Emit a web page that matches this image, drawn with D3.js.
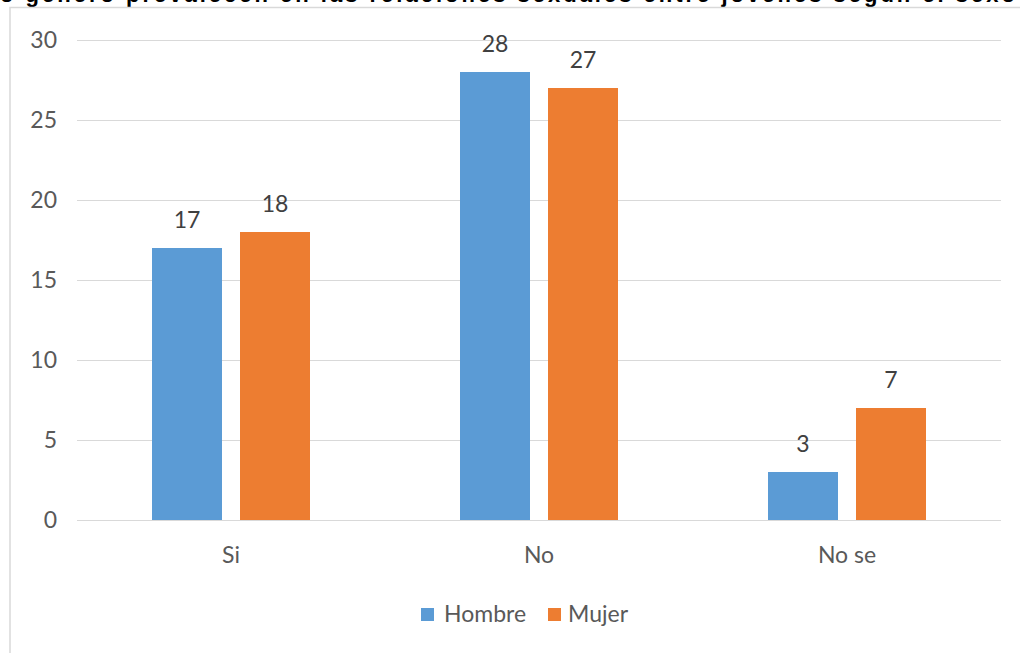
<!DOCTYPE html>
<html><head><meta charset="utf-8">
<script src="https://cdn.jsdelivr.net/npm/d3@7"></script>
<style>
html,body{margin:0;padding:0;background:#fff;}
svg{display:block;}
</style></head>
<body>
<svg id="chart" width="1020" height="653"></svg>
<script>
const categories = ["Si", "No", "No se"];
const seriesNames = ["Hombre", "Mujer"];
const hombre = [17, 28, 3];
const mujer = [18, 27, 7];
const yTicks = [0, 5, 10, 15, 20, 25, 30];
const colors = ["#5B9BD5", "#ED7D31"];
const title = "o género prevalecen en las relaciones sexuales entre jóvenes según el sexo";

(function(){
const svg = d3.select("#chart");
const font = "Lato, 'Open Sans', sans-serif";

// title (clipped at the top edge, as in the reference)
svg.append("text").attr("x", 0).attr("y", 2)
  .attr("font-family", "'Liberation Sans', Arial, sans-serif")
  .attr("font-weight", "bold").attr("font-size", 22).attr("fill", "#000")
  .attr("textLength", 1015).attr("lengthAdjust", "spacing")
  .text(title);

// chart frame
svg.append("rect").attr("x", 10).attr("y", 7.5).attr("width", 1030).attr("height", 660)
  .attr("fill", "#fff").attr("stroke", "#d9d9d9").attr("stroke-width", 1.5);

const mLeft = 77, mRight = 1001, mTop = 40, mBottom = 520;
const x = d3.scaleBand().domain(categories).range([mLeft, mRight]);
const y = d3.scaleLinear().domain([0, 30]).range([mBottom, mTop]);
const xs = d3.scaleBand().domain(seriesNames).range([x.bandwidth()/2 - 79, x.bandwidth()/2 + 79]).paddingInner(18/88);

// gridlines
svg.append("g").selectAll("line").data(yTicks).join("line")
  .attr("x1", mLeft).attr("x2", mRight)
  .attr("y1", d => y(d) + 0.5).attr("y2", d => y(d) + 0.5)
  .attr("stroke", "#d9d9d9").attr("stroke-width", 1);

// y axis labels
const yAxis = d3.axisLeft(y).tickValues(yTicks).tickSize(0).tickPadding(0);
const yg = svg.append("g").attr("transform", `translate(57,0)`).call(yAxis);
yg.select(".domain").remove();
yg.selectAll("text").attr("font-family", font).attr("font-size", 23).attr("fill", "#595959");

const data = categories.map((c, i) => ({cat: c, vals: [hombre[i], mujer[i]]}));

const groups = svg.append("g").selectAll("g").data(data).join("g")
  .attr("transform", d => `translate(${x(d.cat)},0)`);

groups.selectAll("rect").data(d => d.vals.map((v, j) => ({s: seriesNames[j], v, j})))
  .join("rect")
  .attr("x", d => xs(d.s)).attr("width", xs.bandwidth())
  .attr("y", d => y(d.v)).attr("height", d => y(0) - y(d.v))
  .attr("fill", d => colors[d.j]);

groups.selectAll("text.val").data(d => d.vals.map((v, j) => ({s: seriesNames[j], v, j})))
  .join("text").attr("class", "val")
  .attr("x", d => xs(d.s) + xs.bandwidth()/2).attr("y", d => y(d.v) - 20)
  .attr("text-anchor", "middle")
  .attr("font-family", font).attr("font-size", 23).attr("fill", "#404040")
  .text(d => d.v);

// x axis labels
const xAxis = d3.axisBottom(x).tickSize(0).tickPadding(0);
const xg = svg.append("g").attr("transform", `translate(0,563)`).call(xAxis);
xg.select(".domain").remove();
xg.selectAll("text").attr("y", 0).attr("dy", 0)
  .attr("font-family", font).attr("font-size", 23).attr("fill", "#595959");

// legend
const legendX = [421, 548];
const lg = svg.append("g").selectAll("g").data(seriesNames).join("g")
  .attr("transform", (d, i) => `translate(${legendX[i]},608)`);
lg.append("rect").attr("width", 13).attr("height", 13).attr("fill", (d, i) => colors[i]);
lg.append("text").attr("x", (d, i) => i === 0 ? 23 : 20).attr("y", 14)
  .attr("font-family", font).attr("font-size", 23).attr("fill", "#595959")
  .text(d => d);
})();
</script>
</body></html>
